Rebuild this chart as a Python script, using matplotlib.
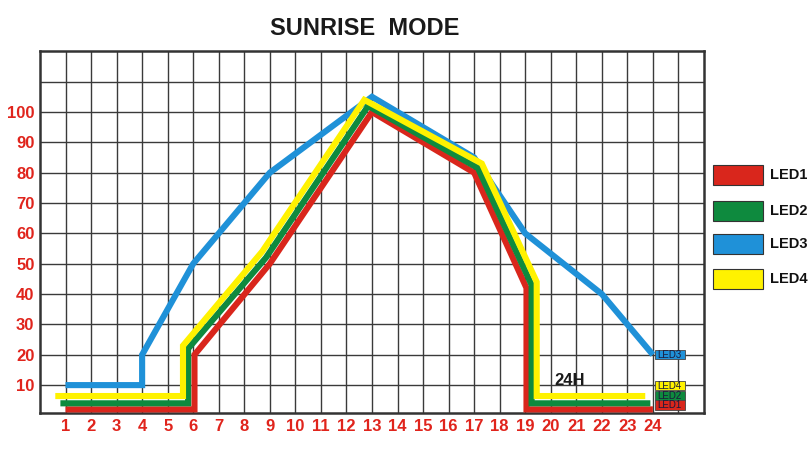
import matplotlib
matplotlib.use("Agg")
import matplotlib.pyplot as plt
from matplotlib.patches import Rectangle

plt.rcParams['font.family'] = ['Liberation Sans', 'DejaVu Sans']

# hours on x axis, percent on y axis
led1_x = [1, 6.05, 6.05, 9, 13, 17, 19.05, 19.05, 24]
led1_y = [2, 2, 20, 50, 100, 80, 42, 2, 2]
led2_x = [0.8, 5.8, 5.8, 8.85, 12.85, 17.15, 19.25, 19.25, 23.9]
led2_y = [4, 4, 22, 52, 102, 81.5, 43, 4, 4]
led3_x = [1, 4, 4, 6, 9, 13, 17, 19, 22, 24]
led3_y = [10, 10, 20, 50, 80, 105, 85, 60, 40, 20]
led4_x = [0.6, 5.6, 5.6, 8.7, 12.7, 17.3, 19.45, 19.45, 23.7]
led4_y = [6.4, 6.4, 23, 54, 104, 83, 44, 6.4, 6.4]

names = ["LED1", "LED2", "LED3", "LED4"]
colors = ["#d9261c", "#0e8a3e", "#1f91d8", "#fff200"]
hours = list(range(1, 25))
levels = list(range(10, 101, 10))

red = "#e0241c"

fig = plt.figure(figsize=(8.09, 4.62), dpi=100)
ax = fig.add_axes([0.0494, 0.106, 0.8208, 0.7843])

lw = 4.4
kw = dict(solid_joinstyle="miter", solid_capstyle="butt", linewidth=lw)
ax.plot(led3_x, led3_y, color=colors[2], zorder=3, **kw)
ax.plot(led1_x, led1_y, color=colors[0], zorder=4, **kw)
ax.plot(led2_x, led2_y, color=colors[1], zorder=5, **kw)
ax.plot(led4_x, led4_y, color=colors[3], zorder=6, **kw)

ax.set_xlim(0, 26)
ax.set_ylim(0.8, 120.2)
ax.set_xticks(list(range(1, 26)))
ax.set_xticklabels([str(h) for h in hours] + [""])
ax.set_yticks(list(range(10, 111, 10)))
ax.set_yticklabels([str(v) for v in levels] + [""])
ax.tick_params(length=0, labelsize=12, labelcolor=red, pad=4)
for lab in ax.get_xticklabels() + ax.get_yticklabels():
    lab.set_fontweight("bold")
ax.grid(True, color="#3a3a3a", linewidth=1.0, zorder=1)
ax.set_axisbelow(True)
for s in ax.spines.values():
    s.set_color("#333333")
    s.set_linewidth(1.8)

# end labels at right
boxes = [("LED3", 18.5, 3.0, colors[2]), ("LED4", 8.4, 2.9, colors[3]),
         ("LED2", 5.05, 2.95, colors[1]), ("LED1", 1.75, 3.3, colors[0])]
for name, y0, h, c in boxes:
    ax.add_patch(Rectangle((24.07, y0), 1.17, h, facecolor=c, edgecolor="#444444",
                           linewidth=0.6, zorder=7, clip_on=False))
    ax.text(24.655, y0 + h / 2, name, fontsize=7, color="#1a1a3a",
            ha="center", va="center", zorder=8)

ax.text(20.15, 10.2, "24H", fontsize=12, fontweight="bold", color="#1a1a1a",
        ha="left", va="baseline", zorder=8)

fig.text(0.451, 0.938, "SUNRISE  MODE", fontsize=17, fontweight="bold", color="#1a1a1a",
         ha="center", va="center")

# legend on right
leg_y = [165, 201, 234, 269]
for name, c, yt in zip(names, colors, leg_y):
    fig.add_artist(Rectangle((713 / 809, 1 - (yt + 19.5) / 462), 50 / 809, 19.5 / 462,
                             facecolor=c, edgecolor="#333333", linewidth=0.8,
                             transform=fig.transFigure))
    fig.text(770 / 809, 1 - (yt + 10) / 462, name, fontsize=10.5, fontweight="bold",
             color="#111111", ha="left", va="center")

fig.savefig("out.png", dpi=100)
